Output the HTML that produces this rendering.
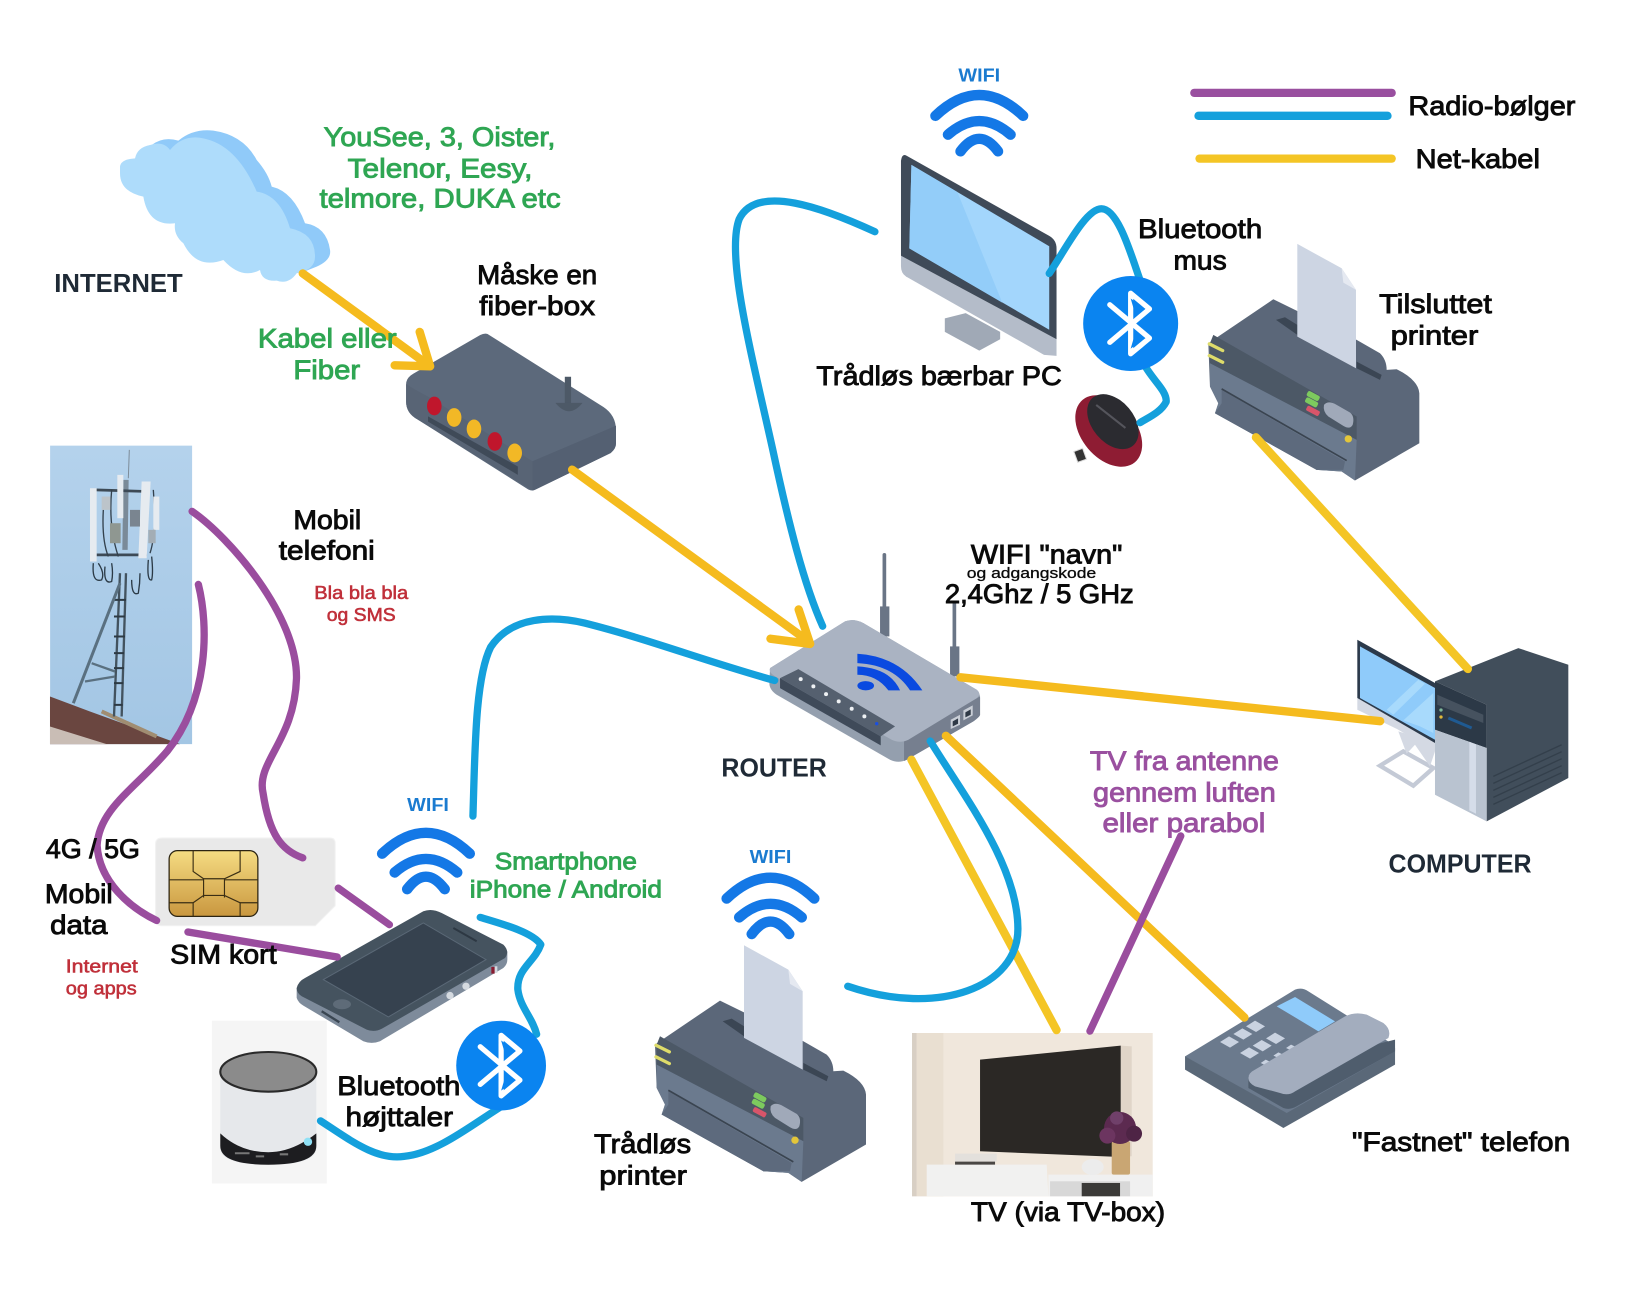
<!DOCTYPE html>
<html><head><meta charset="utf-8"><style>
html,body{margin:0;padding:0;background:#fff}
svg{display:block}
text{font-family:"Liberation Sans",sans-serif;text-anchor:middle}
.k{fill:#0a0a0a;stroke:#0a0a0a;stroke-width:.85;font-size:25.5px}
.g{fill:#2fa653;stroke:#2fa653;stroke-width:.85;font-size:25.5px}
.p{fill:#9a50a0;stroke:#9a50a0;stroke-width:.85;font-size:25.5px}
.r{fill:#c0303a;stroke:#c0303a;stroke-width:.55;font-size:18px}
.h{fill:#1f2a36;font-weight:bold;font-size:25px}
.w{fill:#1a7bd0;font-weight:bold;font-size:18px}
.y,.b,.u{fill:none;stroke-linecap:round;stroke-linejoin:round}
.y{stroke:#f5bb1e;stroke-width:8}
.b{stroke:#14a0dc;stroke-width:7}
.u{stroke:#9a4d9e;stroke-width:7}
</style></head><body>
<svg xmlns="http://www.w3.org/2000/svg" width="1637" height="1291" viewBox="0 0 1568 1237" preserveAspectRatio="none">
<defs>
<g id="wf" fill="none" stroke="#1478e6" stroke-width="10" stroke-linecap="round"><path d="M-42,24Q0,-16 42,24"/><path d="M-30,42Q0,16 30,42"/><path d="M-18,58Q0,34 18,58"/></g>
<g id="bt"><path d="M-20,-18L18,14L0,29V-29L18,-14L-20,18" fill="none" stroke="#fff" stroke-width="5" stroke-linecap="round" stroke-linejoin="round"/><path d="M0,-24L14,-14L5,-7ZM0,24L14,14L5,7Z" fill="#0a84f0"/></g>
<linearGradient id="sky" x1="0" y1="0" x2="0" y2="1"><stop offset="0" stop-color="#b4d2ec"/><stop offset="1" stop-color="#a3c6e4"/></linearGradient>
<linearGradient id="gold" x1="0" y1="0" x2="0" y2="1"><stop offset="0" stop-color="#f5dc82"/><stop offset="1" stop-color="#c9973f"/></linearGradient>
<g id="printer" transform="translate(1149.4,229.9) scale(.3193)">
<path d="M25,310L220,178L285,210L470,300L540,340Q560,360 560,390L590,388Q655,420 658,460V610L465,722L425,695L350,690L45,520L55,490L30,440Z" fill="#5b6779"/>
<path d="M228,240L255,232L292,255V285ZM470,365L545,405L540,420L470,385Z" fill="#3b4654"/>
<path d="M292,12L425,85L468,150V385L292,290Z" fill="#cdd5e3"/>
<path d="M425,85L468,150L430,128Z" fill="#e5e9f1"/>
<path d="M40,285L470,530V600L30,370V310Z" fill="#4c5866"/>
<path d="M30,370L470,600L465,722L425,695L350,690L45,520L55,490L30,440Z" fill="#6b7a8e"/>
<path d="M65,450L435,665L430,690H350L45,520L65,490Z" fill="#5d6a7d"/>
<path d="M65,447L440,662" stroke="#3a4450" stroke-width="5" fill="none"/>
<path d="M28,312L68,332M28,347L68,367" stroke="#dedc6a" stroke-width="10" fill="none" stroke-linecap="round"/>
<rect x="320" y="460" width="40" height="17" rx="6" fill="#7dca5e" transform="rotate(28 340 468)"/>
<rect x="315" y="479" width="40" height="17" rx="6" fill="#7dca5e" transform="rotate(28 335 487)"/>
<rect x="318" y="505" width="42" height="16" rx="5" fill="#d8556a" transform="rotate(28 339 513)"/>
<path d="M372,495Q385,480 410,495L450,518Q465,530 458,555Q450,570 430,558L385,530Q368,515 372,495Z" fill="#a0a9b9"/>
<circle cx="445" cy="597" r="11" fill="#e3c63a"/>
</g>
</defs>

<!-- cloud -->
<g transform="translate(95.8,105.4) scale(.3193)">
<path d="M155,105Q190,78 235,92Q280,55 340,62Q430,75 470,150Q505,190 515,230Q580,245 615,340Q680,350 690,420Q695,450 650,470L600,490L300,300Z" fill="#90caf9"/>
<path d="M60,170Q62,148 105,145Q112,112 150,105Q190,92 210,120Q250,72 310,85Q410,105 470,245Q540,255 570,355Q645,370 645,440Q645,480 590,490Q565,525 530,512Q485,515 480,480Q425,510 370,450Q290,480 250,400Q220,375 225,340Q145,350 130,260Q60,245 60,190Z" fill="#aedcfb"/>
</g>

<!-- fiber box -->
<path d="M467,320L578,390Q590,398 590,412V425Q590,430 585,434L513,469Q510,471 506,469L400,402Q389,396 389,385V368Q389,362 396,358L460,321Q464,319 467,320Z" fill="#5c697b"/>
<path d="M389,368Q395,372 410,380L510,442V470L400,402Q389,396 389,385Z" fill="#586475"/>
<path d="M510,442L590,408V425Q590,430 585,434L513,469L510,470Z" fill="#546072"/>
<path d="M410,399L496,447V455L410,404Z" fill="#3f4a58"/>
<ellipse cx="416" cy="389" rx="7" ry="9" fill="#c0162c"/><ellipse cx="435" cy="400" rx="7" ry="9" fill="#f2b826"/><ellipse cx="454" cy="411" rx="7" ry="9" fill="#f2b826"/><ellipse cx="474" cy="423" rx="7" ry="9" fill="#c0162c"/><ellipse cx="493" cy="434" rx="7" ry="9" fill="#f2b826"/>
<path d="M544,361V388" stroke="#4d5967" stroke-width="6"/><path d="M532,386Q545,402 558,386Z" fill="#4d5967"/>

<!-- tower -->
<rect x="48" y="427" width="136" height="286" fill="url(#sky)"/>
<g transform="translate(38.3,421.5) scale(.3193)">
<path d="M30,770L150,815L420,913H30Z" fill="#6a4640"/>
<path d="M30,860L200,913H30Z" fill="#c9bdb5"/>
<path d="M185,815L350,890" stroke="#a08d72" stroke-width="12"/>
<g fill="none" stroke="#43535f">
<path d="M268,30L265,115" stroke-width="3" stroke="#7d8c99"/>
<path d="M258,120L255,330" stroke-width="16" stroke="#7a8a98"/>
<path d="M240,400L222,830M258,400L245,830" stroke-width="7"/>
<path d="M222,480H258M222,530H255M222,590H255M222,640H252M222,685H252M222,730H250M222,795H248" stroke-width="6" stroke="#2d3a44"/>
<path d="M240,430L100,790" stroke-width="9" stroke="#5a7080"/>
<path d="M135,725L225,710M155,670L225,695" stroke-width="7" stroke="#5a7080"/>
<path d="M165,150L330,155M170,345L320,345" stroke-width="8" stroke="#3d4a56"/>
<path d="M160,370Q155,430 185,420Q195,400 175,370M195,380Q190,435 215,425Q220,400 215,370M275,420Q275,470 295,460Q300,430 300,400M325,360Q320,425 335,420Q340,400 335,350" stroke-width="4" stroke="#2b3a46"/>
<path d="M190,210Q185,300 205,350M215,150Q205,260 235,350M340,150Q350,280 330,340" stroke-width="4" stroke="#33414d"/>
</g>
<g fill="#e6ebf0"><rect x="150" y="145" width="20" height="220"/><rect x="232" y="105" width="18" height="130"/><path d="M305,125H332L320,355H295Z"/><rect x="340" y="170" width="18" height="100"/></g>
<rect x="270" y="210" width="30" height="50" fill="#7a8590"/><rect x="325" y="270" width="22" height="40" fill="#a3adb5"/><rect x="210" y="250" width="32" height="60" fill="#8f9791"/><rect x="185" y="170" width="26" height="40" fill="#bcc4ca"/>
</g>

<!-- SIM -->
<path d="M155,803H316Q321,803 321,808V868L302,887H155Q149,887 149,881V809Q149,803 155,803Z" fill="#e9e9e9" stroke="#f2f2f2"/>
<rect x="162" y="815" width="85" height="63" rx="8" fill="url(#gold)" stroke="#2c2412" stroke-width="1.2"/>
<path d="M185,815V835L195,842H215L230,835V815M162,843H195M215,843H247M162,865H185L195,858H215L230,865H247M195,842V860M215,842V860M185,865V878M230,865V878" fill="none" stroke="#3a2e14" stroke-width="1.1"/>

<!-- phone -->
<g transform="translate(268.2,862) scale(.3193)">
<path d="M50,265V295Q55,310 70,318L250,425Q275,435 300,425L670,205Q682,195 682,180V155Z" fill="#7e8b9b"/>
<path d="M50,265Q55,245 75,235L430,35Q455,25 485,40L670,135Q690,155 675,175L310,385Q285,400 260,390L65,290Q50,280 50,265Z" fill="#45535f"/>
<path d="M130,240L430,70L618,180L325,352Z" fill="#36424f" stroke="#5a6876" stroke-width="3"/>
<ellipse cx="186" cy="314" rx="27" ry="15" fill="#5e6b78"/>
<path d="M520,85L590,125" stroke="#2d3843" stroke-width="6"/>
<circle cx="510" cy="288" r="11" fill="#d5dae0"/><circle cx="558" cy="260" r="11" fill="#d5dae0"/>
<rect x="634" y="202" width="10" height="20" fill="#8a1b30"/><rect x="644" y="200" width="8" height="20" fill="#d5dae0"/>
<path d="M125,335L178,368" stroke="#3a4652" stroke-width="7"/>
</g>

<!-- speaker -->
<rect x="203" y="978" width="110" height="156" fill="#f5f5f5"/>
<path d="M211,1025V1100Q211,1116 257,1116Q303,1116 303,1100V1025Z" fill="#e6e8eb"/>
<path d="M211,1086V1098Q211,1116 257,1116Q303,1116 303,1098V1086Q280,1104 257,1104Q230,1104 211,1086Z" fill="#1d1d20"/>
<ellipse cx="257" cy="1027" rx="46" ry="19" fill="#8b8b8b" stroke="#2a2a2a" stroke-width="2"/>
<circle cx="295" cy="1094" r="4" fill="#8fe0f5"/>
<path d="M225,1105h14M245,1108h8M268,1106h8" stroke="#777" stroke-width="2"/>

<!-- monitor -->
<path d="M905,305L925,300L958,318L958,325L938,336L905,318Z" fill="#a0a9b6"/>
<path d="M863,245L1012,325V341L1000,340L868,265Q863,262 863,255Z" fill="#b4bcc9"/>
<path d="M868,149L1005,226Q1012,230 1012,238V325L863,245V154Q864,147 868,149Z" fill="#3f4a58"/>
<path d="M873,158L1005,236V316L871,238Z" fill="#a3d6fc"/>
<path d="M873,158L917,184L960,290L871,238Z" fill="#93cdf9"/>

<!-- mouse -->
<ellipse cx="1062" cy="413" rx="26" ry="39" fill="#8e1c33" transform="rotate(-40 1062 413)"/>
<ellipse cx="1066" cy="404" rx="20" ry="30" fill="#2b2b30" transform="rotate(-40 1066 404)"/>
<path d="M1050,388L1078,410" stroke="#55555c" stroke-width="2"/>
<rect x="1030" y="431" width="9" height="11" fill="#333" stroke="#ddd" transform="rotate(-20 1034 436)"/>

<!-- router -->
<g transform="translate(728,517.2) scale(.3193)">
<path d="M373,45V200M583,190V320" stroke="#6a7586" stroke-width="11" stroke-linecap="round"/>
<rect x="360" y="200" width="28" height="90" fill="#6a7586"/><rect x="570" y="320" width="28" height="90" fill="#6a7586"/>
<path d="M30,385L255,245Q280,235 310,250L650,450Q660,460 660,475V525Q660,530 640,545L440,660Q415,672 390,660L50,465Q28,450 28,430Z" fill="#949fae"/>
<path d="M432,605L660,470V525Q660,530 640,545L440,660L432,664Z" fill="#767f8f"/>
<path d="M30,385L255,245Q280,235 310,250L650,450Q665,462 650,475L445,600Q420,612 395,600L45,410Q25,398 30,385Z" fill="#aab3c2"/>
<path d="M60,415L115,388L405,560L362,590Z" fill="#55606f"/>
<path d="M60,415L362,590V617L60,445Z" fill="#3f4a59"/>
<g fill="#eef1f4"><circle cx="122" cy="418" r="6"/><circle cx="160" cy="440" r="6"/><circle cx="198" cy="463" r="6"/><circle cx="236" cy="485" r="6"/><circle cx="275" cy="507" r="6"/><circle cx="313" cy="530" r="6"/></g><circle cx="350" cy="552" r="5" fill="#1a4fe0"/>
<ellipse cx="317" cy="438" rx="25" ry="14" fill="#0a4ae0"/>
<path d="M292,342Q420,350 487,452H450Q400,375 292,370ZM292,380Q390,385 420,452H385Q350,405 292,405Z" fill="#0a4ae0"/>
<path d="M572,540L600,525V555L572,568ZM610,512L638,497V527L610,542Z" fill="#c9ced6"/>
<path d="M578,545L594,536V552L578,560ZM616,518L632,509V525L616,533Z" fill="#2f3946"/>
</g>

<!-- computer -->
<g transform="translate(1283.5,603.4) scale(.3193)">
<path d="M120,408L190,365L280,415L220,468Z" fill="none" stroke="#c4cad6" stroke-width="13"/>
<path d="M175,305L200,372L225,345L270,410L285,365L225,320Z" fill="#d4d9e3"/>
<path d="M52,205V240L175,300L285,365V340Z" fill="#d4d9e3"/>
<path d="M52,30L285,160V340L52,205Z" fill="#2c3a4b"/>
<path d="M60,50L285,175V330L60,205Z" fill="#8fcbfa"/>
<path d="M140,240L235,150L255,162L160,255ZM190,272L280,190V310L240,290Z" fill="#a8dafc"/>
<path d="M285,155L535,55L685,105V445L440,575V225Z" fill="#414e5b"/>
<path d="M285,155L440,225V355L285,300Z" fill="#2c3947"/>
<path d="M292,195L430,255V280L292,225Z" fill="#46525f"/>
<path d="M285,300L440,355V575L285,495Z" fill="#b9c3d0"/>
<path d="M388,336L408,344V552L388,542Z" fill="#d5dde9"/>
<path d="M460,440L665,345M460,461L665,366M460,482L665,387M460,503L665,408M460,524L665,429" stroke="#333f4b" stroke-width="4"/>
<circle cx="303" cy="241" r="5" fill="#7fb89a"/><circle cx="303" cy="262" r="5" fill="#e0b93a"/>
<path d="M325,265L395,295" stroke="#1f5a92" stroke-width="9"/>
</g>

<!-- desk phone -->
<g transform="translate(1130.3,938.7) scale(.3193)">
<path d="M15,230V270L310,445L645,255V205Z" fill="#5a6878"/>
<path d="M15,230L345,30Q365,22 385,35L640,195L645,215L320,400Z" fill="#6b7a8d"/>
<path d="M290,80L345,52L465,125L415,155Z" fill="#8fcbfa"/>
<path d="M205,290V325L310,385Q330,392 350,380L645,215V180Z" fill="#4f5d6d"/>
<g fill="#c9d2e0"><path d="M198,140l27,-17 30,17 -27,17zM160,163l27,-17 30,17 -27,17zM120,187l27,-17 30,17 -27,17zM258,176l27,-17 30,17 -27,17zM218,198l27,-17 30,17 -27,17zM180,220l27,-17 30,17 -27,17zM318,205l15,-10 25,12 -15,10zM280,228l15,-10 25,12 -15,10zM242,250l15,-10 25,12 -15,10z"/></g>
<path d="M205,295Q205,280 225,270L495,110Q525,95 560,105L610,130Q635,150 625,175L345,335Q325,350 300,340L225,320Q205,310 205,295Z" fill="#a3adbe"/>
</g>

<!-- TV -->
<g transform="translate(862.1,986.6) scale(.3193)">
<rect x="36" y="10" width="722" height="490" fill="#f0e7dc"/>
<rect x="36" y="10" width="14" height="490" fill="#d8cfc4"/><rect x="50" y="10" width="80" height="490" fill="#e9dfd1"/>
<path d="M662,48L695,50V380L662,382Z" fill="#e0d5c8"/>
<path d="M240,90L662,48V382L240,365Z" fill="#2b2825"/>
<path d="M80,405H440L445,500H80Z" fill="#f1f1f0"/>
<path d="M445,435L758,435V500H445Z" fill="#f0f0f0"/>
<rect x="450" y="455" width="240" height="45" fill="#d8d8d8"/><rect x="545" y="460" width="115" height="40" fill="#3b3a38"/>
<rect x="165" y="372" width="125" height="24" fill="#e3e0dc"/><rect x="165" y="396" width="120" height="9" fill="#4a4744"/>
<ellipse cx="578" cy="412" rx="33" ry="24" fill="#ececec"/>
<rect x="635" y="335" width="55" height="100" rx="6" fill="#c9a673"/>
<circle cx="660" cy="295" r="48" fill="#5c2a50"/><circle cx="622" cy="318" r="24" fill="#6c3560"/><circle cx="702" cy="312" r="24" fill="#4e2445"/><circle cx="650" cy="265" r="20" fill="#70406a"/>
</g>

<!-- printers -->
<use href="#printer"/>
<use href="#printer" x="-530" y="672"/>

<!-- cables -->
<path class="y" d="M290,262L412,351M402,318L412,351L378,350"/>
<path class="y" d="M548,450L775,615M765,584L776,617L738,612"/>
<path class="y" d="M920,649L1322,691"/>
<path class="y" d="M1203,419L1406,641" style="stroke:#f4c525"/>
<path class="y" d="M873,728L1012,987" style="stroke:#f4c525"/>
<path class="y" d="M906,705L1192,975"/>
<path class="u" d="M1131,801L1044,988"/>
<path class="b" d="M891,710C925,765 975,830 975,890C975,945 900,975 812,945"/>
<path class="b" d="M838,222C790,200 725,175 708,210C695,245 720,340 740,430C755,500 770,560 788,600"/>
<path class="b" d="M453,782C455,720 455,650 470,620C490,590 530,590 560,597C620,612 680,635 742,652"/>
<path class="b" d="M460,879C480,885 510,893 518,905C512,922 495,928 496,948C498,965 510,975 514,991"/>
<path class="b" d="M307,1074C335,1092 360,1112 387,1108C420,1105 455,1075 487,1056"/>
<path class="b" d="M1005,262C1020,240 1040,200 1055,200C1072,200 1085,250 1094,274"/>
<path class="b" d="M1097,351C1105,365 1118,375 1117,385C1112,395 1100,400 1092,405"/>
<path class="u" d="M184,490C220,515 285,590 284,650C282,710 245,730 252,760C258,800 270,815 290,822"/>
<path class="u" d="M190,560C200,600 200,670 160,720C130,755 95,775 93,810C95,845 125,870 150,882"/>
<path class="u" d="M324,851L373,886M180,893L323,917"/>

<!-- bluetooth -->
<circle cx="1083" cy="310" r="45.5" fill="#0a84f0"/>
<use href="#bt" x="1083" y="310"/>
<circle cx="480" cy="1021" r="43" fill="#0a84f0"/>
<use href="#bt" x="480" y="1021"/>

<!-- legend -->
<path class="u" d="M1144,89H1333" style="stroke-width:8;stroke:#994f9f"/>
<path class="b" d="M1148,111H1329" style="stroke-width:8"/>
<path class="y" d="M1149,152H1333" style="stroke:#f4c525"/>

<!-- wifi icons -->
<use href="#wf" x="938" y="87"/><use href="#wf" x="408" y="794"/><use href="#wf" x="738" y="837"/>
<text class="w" x="938" y="78" textLength="40" lengthAdjust="spacingAndGlyphs">WIFI</text><text class="w" x="410" y="777" textLength="40" lengthAdjust="spacingAndGlyphs">WIFI</text><text class="w" x="738" y="827" textLength="40" lengthAdjust="spacingAndGlyphs">WIFI</text>

<!-- labels -->
<text class="g" x="421" y="140" textLength="222" lengthAdjust="spacingAndGlyphs">YouSee, 3, Oister,</text>
<text class="g" x="421.5" y="170" textLength="177" lengthAdjust="spacingAndGlyphs">Telenor, Eesy,</text>
<text class="g" x="421.5" y="199" textLength="231" lengthAdjust="spacingAndGlyphs">telmore, DUKA etc</text>
<text class="h" x="113.5" y="280" textLength="123" lengthAdjust="spacingAndGlyphs">INTERNET</text>
<text class="k" x="514.5" y="272" textLength="115" lengthAdjust="spacingAndGlyphs">Måske en</text>
<text class="k" x="514.5" y="302" textLength="111" lengthAdjust="spacingAndGlyphs">fiber-box</text>
<text class="g" x="313.5" y="333" textLength="133" lengthAdjust="spacingAndGlyphs">Kabel eller</text>
<text class="g" x="313" y="363" textLength="64" lengthAdjust="spacingAndGlyphs">Fiber</text>
<text class="k" x="313.5" y="507" textLength="65" lengthAdjust="spacingAndGlyphs">Mobil</text>
<text class="k" x="313" y="536" textLength="92" lengthAdjust="spacingAndGlyphs">telefoni</text>
<text class="r" x="346" y="574" textLength="90" lengthAdjust="spacingAndGlyphs">Bla bla bla</text>
<text class="r" x="346" y="595" textLength="66" lengthAdjust="spacingAndGlyphs">og SMS</text>
<text class="k" x="1149.5" y="228" textLength="119" lengthAdjust="spacingAndGlyphs">Bluetooth</text>
<text class="k" x="1149.5" y="258" textLength="51" lengthAdjust="spacingAndGlyphs">mus</text>
<text class="k" x="1375" y="300" textLength="108" lengthAdjust="spacingAndGlyphs">Tilsluttet</text>
<text class="k" x="1374" y="330" textLength="84" lengthAdjust="spacingAndGlyphs">printer</text>
<text class="k" x="899.5" y="369" textLength="235" lengthAdjust="spacingAndGlyphs">Trådløs bærbar PC</text>
<text class="k" x="1429" y="110" textLength="160" lengthAdjust="spacingAndGlyphs">Radio-bølger</text>
<text class="k" x="1415.5" y="161" textLength="119" lengthAdjust="spacingAndGlyphs">Net-kabel</text>
<text class="k" x="1002.5" y="540" textLength="145" lengthAdjust="spacingAndGlyphs">WIFI "navn"</text>
<text class="k" x="988" y="554" textLength="124" lengthAdjust="spacingAndGlyphs" style="font-size:14px;stroke-width:.3">og adgangskode</text>
<text class="k" x="995.5" y="578" textLength="181" lengthAdjust="spacingAndGlyphs">2,4Ghz / 5 GHz</text>
<text class="h" x="741.5" y="744" textLength="101" lengthAdjust="spacingAndGlyphs">ROUTER</text>
<text class="h" x="1398.5" y="836" textLength="137" lengthAdjust="spacingAndGlyphs">COMPUTER</text>
<text class="p" x="1134.5" y="738" textLength="181" lengthAdjust="spacingAndGlyphs">TV fra antenne</text>
<text class="p" x="1134.5" y="768" textLength="175" lengthAdjust="spacingAndGlyphs">gennem luften</text>
<text class="p" x="1134" y="797" textLength="156" lengthAdjust="spacingAndGlyphs">eller parabol</text>
<text class="k" x="89" y="822" textLength="90" lengthAdjust="spacingAndGlyphs">4G / 5G</text>
<text class="k" x="75.5" y="865" textLength="65" lengthAdjust="spacingAndGlyphs">Mobil</text>
<text class="k" x="75.5" y="895" textLength="55" lengthAdjust="spacingAndGlyphs">data</text>
<text class="r" x="97.5" y="932" textLength="69" lengthAdjust="spacingAndGlyphs">Internet</text>
<text class="r" x="97" y="953" textLength="68" lengthAdjust="spacingAndGlyphs">og apps</text>
<text class="k" x="214" y="923" textLength="102" lengthAdjust="spacingAndGlyphs">SIM kort</text>
<text class="g" x="542" y="833" textLength="136" lengthAdjust="spacingAndGlyphs" style="font-size:23px">Smartphone</text>
<text class="g" x="542" y="860" textLength="184" lengthAdjust="spacingAndGlyphs" style="font-size:23px">iPhone / Android</text>
<text class="k" x="382" y="1049" textLength="118" lengthAdjust="spacingAndGlyphs">Bluetooth</text>
<text class="k" x="382.5" y="1079" textLength="103" lengthAdjust="spacingAndGlyphs">højttaler</text>
<text class="k" x="615.5" y="1105" textLength="93" lengthAdjust="spacingAndGlyphs">Trådløs</text>
<text class="k" x="616" y="1135" textLength="84" lengthAdjust="spacingAndGlyphs">printer</text>
<text class="k" x="1023" y="1170" textLength="186" lengthAdjust="spacingAndGlyphs">TV (via TV-box)</text>
<text class="k" x="1399.5" y="1103" textLength="209" lengthAdjust="spacingAndGlyphs">"Fastnet" telefon</text>
</svg>
</body></html>
